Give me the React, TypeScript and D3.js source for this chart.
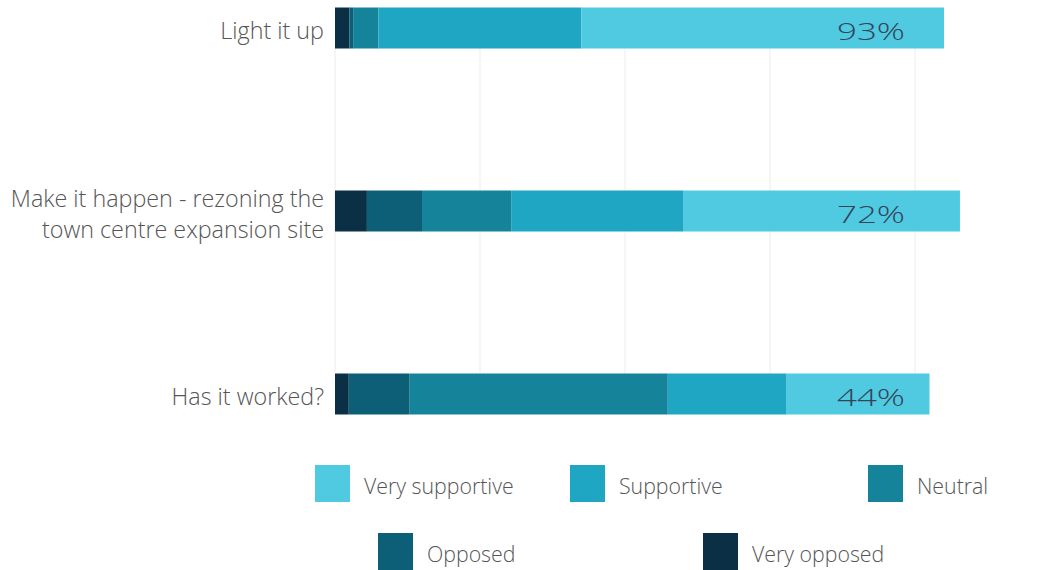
import React from 'react';
import * as d3 from 'd3';

// ---- Data ----
const categories = ['Light it up', 'Make it happen', 'Has it worked?'];
const categoryLines = [
  ['Light it up'],
  ['Make it happen - rezoning the', 'town centre expansion site'],
  ['Has it worked?'],
];
const seriesNames = ['Very opposed', 'Opposed', 'Neutral', 'Supportive', 'Very supportive'];
const veryOpposed = [2, 4.4, 1.9];
const opposed = [0.5, 7.6, 8.4];
const neutral = [3.5, 12.3, 35.6];
const supportive = [28, 23.7, 16.4];
const verySupportive = [50, 38.2, 19.7];
const gridTicks = [0, 20, 40, 60, 80];
const legendOrder = ['Very supportive', 'Supportive', 'Neutral', 'Opposed', 'Very opposed'];

// ---- Styles / layout ----
const W = 1054;
const H = 570;
const colors: Record<string, string> = {
  'Very opposed': '#0b3046',
  'Opposed': '#0d5f77',
  'Neutral': '#15849a',
  'Supportive': '#1fa6c2',
  'Very supportive': '#50cae0',
};
const legendPos = [
  { x: 315, y: 465 },
  { x: 570, y: 465 },
  { x: 868, y: 465 },
  { x: 378, y: 533 },
  { x: 703, y: 533 },
];
const FONT = "'Open Sans', 'Liberation Sans', Arial, sans-serif";

export default function App() {
  const rows = categories.map((c, i) => ({
    category: c,
    'Very opposed': veryOpposed[i],
    'Opposed': opposed[i],
    'Neutral': neutral[i],
    'Supportive': supportive[i],
    'Very supportive': verySupportive[i],
  }));
  const stack = d3.stack<any>().keys(seriesNames);
  const series = stack(rows);

  const x = d3.scaleLinear().domain([0, 100]).range([335, 1060]);
  const y = d3.scalePoint<string>().domain(categories).range([28, 394]);
  const barH = 41;

  const gridTop = (y(categories[0]) as number) + barH / 2;
  const gridBottom = (y(categories[categories.length - 1]) as number) - barH / 2;

  return (
    <svg
      width={W}
      height={H}
      style={{ position: 'absolute', left: 0, top: 0, background: '#fff' }}
      fontFamily={FONT}
    >
      {/* grid lines */}
      {gridTicks.map((t) => (
        <line
          key={t}
          x1={x(t)}
          x2={x(t)}
          y1={gridTop}
          y2={gridBottom}
          stroke="#ececec"
          strokeWidth={1}
        />
      ))}

      {/* bars */}
      {series.map((s) => (
        <g key={s.key} fill={colors[s.key]}>
          {s.map((d, i) => (
            <rect
              key={i}
              x={x(d[0])}
              width={x(d[1]) - x(d[0])}
              y={(y(categories[i]) as number) - barH / 2}
              height={barH}
            />
          ))}
        </g>
      ))}

      {/* percentage labels */}
      {rows.map((r, i) => {
        const total = seriesNames.reduce((a, k) => a + (r as any)[k], 0);
        const pct = Math.round(((r.Supportive + r['Very supportive']) / total) * 100);
        return (
          <text
            key={i}
            x={905}
            y={(y(categories[i]) as number) + 2}
            textAnchor="end"
            dominantBaseline="central"
            fontSize={24}
            fontWeight={300}
            fill="#34445a"
            textLength={68}
            lengthAdjust="spacingAndGlyphs"
          >
            {pct}%
          </text>
        );
      })}

      {/* category labels */}
      {categoryLines.map((lines, i) => (
        <text
          key={i}
          x={324}
          textAnchor="end"
          fontSize={23.3}
          fontWeight={300}
          fill="#555"
        >
          {lines.map((ln, j) => (
            <tspan
              key={j}
              x={324}
              y={(y(categories[i]) as number) + 2 + (j - (lines.length - 1) / 2) * 31}
              dominantBaseline="central"
            >
              {ln}
            </tspan>
          ))}
        </text>
      ))}

      {/* legend */}
      {legendOrder.map((name, i) => (
        <g key={name} transform={`translate(${legendPos[i].x},${legendPos[i].y})`}>
          <rect width={35} height={37} fill={colors[name]} />
          <text
            x={49}
            y={20}
            dominantBaseline="central"
            fontSize={21.3}
            fontWeight={300}
            fill="#555"
          >
            {name}
          </text>
        </g>
      ))}
    </svg>
  );
}
